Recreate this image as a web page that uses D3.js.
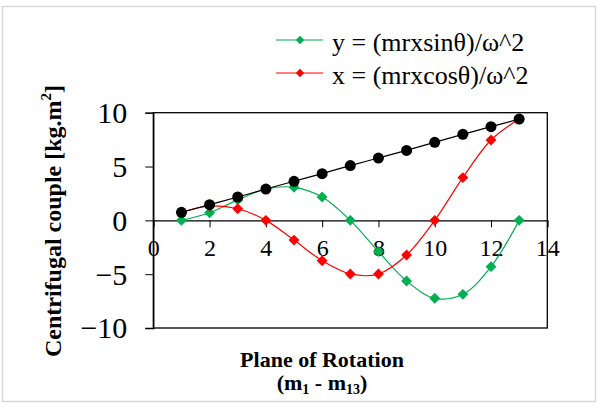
<!DOCTYPE html>
<html>
<head>
<meta charset="utf-8">
<script src="https://cdn.jsdelivr.net/npm/d3@7"></script>
<style>
  body { margin: 0; background: #fff; }
  svg, svg text { font-family: "Liberation Serif", "Times New Roman", "DejaVu Serif", serif; }
</style>
</head>
<body>
<div id="chart"></div>
<script>
// plane numbers m1..m13
var planes = [1, 2, 3, 4, 5, 6, 7, 8, 9, 10, 11, 12, 13];
// y = (mrx sin)/w^2
var sinValues = [0, 0.71, 1.9, 2.9, 3.07, 2.17, 0, -2.9, -5.63, -7.24, -6.87, -4.3, 0];
// x = (mrx cos)/w^2
var cosValues = [0.75, 1.33, 1.08, 0, -1.83, -3.75, -4.98, -4.98, -3.22, 0, 3.97, 7.46, 9.41];
// resultant
var resValues = [0.75, 1.46, 2.17, 2.91, 3.63, 4.34, 5.09, 5.79, 6.5, 7.25, 7.99, 8.7, 9.41];
var xTicks = [0, 2, 4, 6, 8, 10, 12, 14];
var yTicks = [-10, -5, 0, 5, 10];

var width = 598, height = 403;

var svg = d3.select("#chart")
    .append("svg")
    .attr("width", width)
    .attr("height", height);

// outer chart border
svg.append("rect")
    .attr("x", 2.5).attr("y", 6.5)
    .attr("width", 593).attr("height", 395)
    .attr("fill", "none")
    .attr("stroke", "#d9d9d9")
    .attr("stroke-width", 1.5);

var x = d3.scaleLinear().domain([0, 14]).range([153.3, 547.3]);
var y = d3.scaleLinear().domain([-10, 10]).range([328, 112.7]);

// plot frame
svg.append("rect")
    .attr("x", x(0)).attr("y", y(10))
    .attr("width", x(14) - x(0)).attr("height", y(-10) - y(10))
    .attr("fill", "none")
    .attr("stroke", "#000")
    .attr("stroke-width", 1.3);

// y axis
var yAxis = svg.append("g")
    .attr("transform", "translate(" + x(0) + ",0)")
    .call(d3.axisLeft(y).tickValues(yTicks).tickSize(8).tickPadding(18).tickFormat(d3.format("d")));
yAxis.attr("font-family", null);
yAxis.select(".domain").attr("stroke-width", 1.3);
yAxis.selectAll("text")
    .attr("font-size", "30px")
    .attr("fill", "#000")
    .attr("dy", "0.33em");

// x axis at y = 0
var xAxis = svg.append("g")
    .attr("transform", "translate(0," + y(0) + ")")
    .call(d3.axisBottom(x).tickValues(xTicks).tickSize(7).tickPadding(12).tickFormat(d3.format("d")));
xAxis.attr("font-family", null);
xAxis.select(".domain").attr("stroke-width", 1.3);
xAxis.selectAll("text")
    .attr("font-size", "24px")
    .attr("fill", "#000");

// drawn back to front: green, red, then black on top
var series = [
    { name: "sin", values: sinValues, color: "#00b050", marker: "diamond" },
    { name: "cos", values: cosValues, color: "#ff0000", marker: "diamond" },
    { name: "res", values: resValues, color: "#000000", marker: "circle" }
];

var line = d3.line()
    .x(function (d) { return x(d[0]); })
    .y(function (d) { return y(d[1]); })
    .curve(d3.curveCatmullRom.alpha(0.5));

var diamond = d3.symbol().type(d3.symbolDiamond2).size(75);

series.forEach(function (s) {
    var pts = planes.map(function (p, i) { return [p, s.values[i]]; });
    svg.append("path")
        .datum(pts)
        .attr("d", line)
        .attr("fill", "none")
        .attr("stroke", s.color)
        .attr("stroke-width", 1.2);
    if (s.marker == "circle") {
        svg.selectAll(".pt-" + s.name)
            .data(pts)
            .enter()
            .append("circle")
            .attr("cx", function (d) { return x(d[0]); })
            .attr("cy", function (d) { return y(d[1]); })
            .attr("r", 5.5)
            .attr("fill", s.color);
    } else {
        svg.selectAll(".pt-" + s.name)
            .data(pts)
            .enter()
            .append("path")
            .attr("d", diamond)
            .attr("transform", function (d) { return "translate(" + x(d[0]) + "," + y(d[1]) + ")"; })
            .attr("fill", s.color);
    }
});

// legend
var legendItems = [
    { label: "y = (mrxsinθ)/ω^2", color: "#00b050", ly: 40 },
    { label: "x = (mrxcosθ)/ω^2", color: "#ff0000", ly: 73 }
];
var legend = svg.append("g");
legendItems.forEach(function (item) {
    legend.append("line")
        .attr("x1", 276).attr("x2", 323)
        .attr("y1", item.ly).attr("y2", item.ly)
        .attr("stroke", item.color)
        .attr("stroke-width", 1.2);
    legend.append("path")
        .attr("d", d3.symbol().type(d3.symbolDiamond2).size(45))
        .attr("transform", "translate(300," + item.ly + ")")
        .attr("fill", item.color);
    legend.append("text")
        .attr("x", 332)
        .attr("y", item.ly + 11)
        .attr("font-size", "26px")
        .text(item.label);
});

// y axis title
var yTitle = svg.append("text")
    .attr("transform", "translate(61,221) rotate(-90)")
    .attr("text-anchor", "middle")
    .attr("font-size", "24px")
    .attr("font-weight", "bold");
yTitle.append("tspan").text("Centrifugal couple [kg.m");
yTitle.append("tspan").attr("font-size", "15px").attr("dy", "-10").text("2");
yTitle.append("tspan").attr("dy", "10").text("]");

// x axis title
svg.append("text")
    .attr("x", 322).attr("y", 367)
    .attr("text-anchor", "middle")
    .attr("font-size", "22px")
    .attr("font-weight", "bold")
    .text("Plane of Rotation");
var xSub = svg.append("text")
    .attr("x", 322).attr("y", 390)
    .attr("text-anchor", "middle")
    .attr("font-size", "22px")
    .attr("font-weight", "bold");
xSub.append("tspan").text("(m");
xSub.append("tspan").attr("font-size", "14px").attr("dy", "4").text("1");
xSub.append("tspan").attr("dy", "-4").text(" - m");
xSub.append("tspan").attr("font-size", "14px").attr("dy", "4").text("13");
xSub.append("tspan").attr("dy", "-4").text(")");
</script>
</body>
</html>
